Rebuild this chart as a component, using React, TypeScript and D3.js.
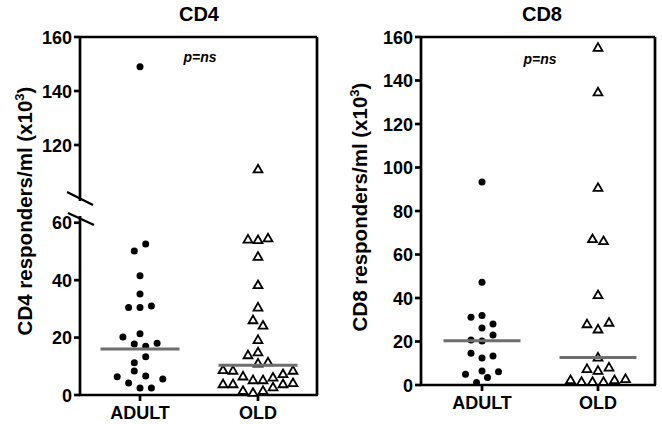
import React from "react";
import * as d3 from "d3";

const categories = ["ADULT", "OLD"];

// CD4 panel data (x10^3 responders/ml)
const cd4AdultValues = [149, 52.6, 50.2, 41.5, 35.2, 30.5, 30.5, 31, 20.2, 21.3, 17.8, 17, 18, 13.3, 11.2, 8.4, 6.4, 6.6, 5.6, 4.2, 2.4, 2.4];
const cd4AdultSlots = [0, 1, -1, 0, 0, -2, 0, 2, -3, 0, -1, 1, 3, 1, -1, -1, -4, 1, 4, -2, 0, 2];
const cd4OldValues = [111, 54.2, 54, 54.6, 48.2, 38.3, 30.5, 26.1, 24.2, 19.2, 13.9, 14.9, 11, 11.4, 8.7, 8.5, 7.3, 8.5, 6.5, 5.2, 5.2, 6.1, 3.8, 3.8, 2.7, 3.8, 4.2, 1.5, 0.8, 1.5];
const cd4OldSlots = [0, -2, 0, 2, 0, 0, 0, -1, 1, 0, -2, 0, 0, 2, -7, -5, 5, 7, -3, -1, 1, 3, -7, -5, 3, 5, 7, -3, -1, 1];
const cd4Medians = [16, 10.4];
const cd4LowTicks = [0, 20, 40, 60];
const cd4HighTicks = [120, 140, 160];

// CD8 panel data
const cd8AdultValues = [93.3, 47.2, 31.1, 31.9, 28, 26.2, 23, 20.7, 20.2, 14.6, 12.4, 13.3, 4.9, 6.4, 6.1, 3.4, 1.1];
const cd8AdultSlots = [0, 0, -2, 0, 2, 0, 2, -2, 0, -2, 0, 2, -3, 0, 3, 1, -1];
const cd8OldValues = [155.1, 134.6, 90.7, 67.1, 66.2, 41.4, 28, 25.6, 28.7, 12.7, 7.4, 6.6, 8.1, 2.3, 1.5, 1.5, 1.5, 2.3, 2.8];
const cd8OldSlots = [0, 0, 0, -1, 1, 0, -2, 0, 2, 0, -2, 0, 2, -5, -3, -1, 1, 3, 5];
const cd8Medians = [20.4, 12.6];
const cd8Ticks = [0, 20, 40, 60, 80, 100, 120, 140, 160];

const FONT = "'Liberation Sans', Arial, Helvetica, sans-serif";
const LINE = 2.7;
const triPath = d3.symbol(d3.symbolTriangle, 34)() as string;

function Marker({ kind, x, y }: { kind: string; x: number; y: number }) {
  if (kind === "circle") return <circle cx={x} cy={y} r={3.5} fill="#000" />;
  return <path d={triPath} transform={`translate(${x},${y + 0.6})`} fill="#fff" stroke="#000" strokeWidth={1.8} />;
}

function YLabel({ x, y, name }: { x: number; y: number; name: string }) {
  return (
    <text transform={`translate(${x},${y}) rotate(-90)`} textAnchor="middle" fontFamily={FONT} fontWeight="bold" fontSize={20.5}>
      {name} responders/ml (x10
      <tspan fontSize={13} dy={-8}>3</tspan>
      <tspan dy={8}>)</tspan>
    </text>
  );
}

export default function App() {
  // ---------- CD4 panel ----------
  const L = { left: 80, right: 317, top: 37, bottom: 395 };
  const x4 = d3.scalePoint<string>().domain(categories).range([81, 317]).padding(0.5);
  const y4Low = d3.scaleLinear().domain([0, 62]).range([395, 217]);
  const y4High = d3.scaleLinear().domain([100, 160]).range([199, 37]);
  const y4 = (v: number) => (v >= 100 ? y4High(v) : y4Low(v));

  // ---------- CD8 panel ----------
  const R = { left: 421, right: 655, top: 37, bottom: 385 };
  const x8 = d3.scalePoint<string>().domain(categories).range([424, 656]).padding(0.5);
  const y8 = d3.scaleLinear().domain([0, 160]).range([385, 37]);

  const cd4Groups = [
    { cat: "ADULT", values: cd4AdultValues, slots: cd4AdultSlots, unit: 5.7, kind: "circle" },
    { cat: "OLD", values: cd4OldValues, slots: cd4OldSlots, unit: 5, kind: "tri" },
  ];
  const cd8Groups = [
    { cat: "ADULT", values: cd8AdultValues, slots: cd8AdultSlots, unit: 5.5, kind: "circle" },
    { cat: "OLD", values: cd8OldValues, slots: cd8OldSlots, unit: 5.5, kind: "tri" },
  ];

  const tickText = { fontFamily: FONT, fontWeight: "bold" as const, fontSize: 18 };

  return (
    <svg width={662} height={424} style={{ position: "absolute", left: 0, top: 0, background: "#fff" }}>
      <rect x={0} y={0} width={662} height={424} fill="#fff" />

      {/* ===== CD4 ===== */}
      <text x={199} y={21} textAnchor="middle" fontFamily={FONT} fontWeight="bold" fontSize={20}>CD4</text>
      <text x={200} y={62} textAnchor="middle" fontFamily={FONT} fontWeight="bold" fontStyle="italic" fontSize={14}>p=ns</text>
      <YLabel x={32} y={211} name="CD4" />

      {/* frame */}
      <line x1={L.left} x2={L.right} y1={L.top} y2={L.top} stroke="#000" strokeWidth={LINE} />
      <line x1={L.right} x2={L.right} y1={L.top} y2={L.bottom} stroke="#000" strokeWidth={LINE} />
      <line x1={L.left - 1} x2={L.right + 1} y1={L.bottom} y2={L.bottom} stroke="#000" strokeWidth={LINE} />
      <line x1={L.left} x2={L.left} y1={L.top - 1} y2={y4High(100) + 2} stroke="#000" strokeWidth={LINE} />
      <line x1={L.left} x2={L.left} y1={y4Low(62) - 1} y2={L.bottom} stroke="#000" strokeWidth={LINE} />
      {/* break marks */}
      <line x1={67} x2={93} y1={192} y2={205} stroke="#000" strokeWidth={2.4} />
      <line x1={68} x2={94} y1={213} y2={225} stroke="#000" strokeWidth={2.4} />

      {[...cd4LowTicks.map((t) => ({ t, y: y4Low(t) })), ...cd4HighTicks.map((t) => ({ t, y: y4High(t) }))].map(({ t, y }) => (
        <g key={"t4" + t}>
          <line x1={L.left - 6} x2={L.left} y1={y} y2={y} stroke="#000" strokeWidth={LINE} />
          <text x={L.left - 8} y={y + 6.5} textAnchor="end" {...tickText}>{t}</text>
        </g>
      ))}
      {categories.map((c) => (
        <g key={"x4" + c}>
          <line x1={x4(c)} x2={x4(c)} y1={L.bottom} y2={L.bottom + 6} stroke="#000" strokeWidth={LINE} />
          <text x={x4(c)} y={L.bottom + 24} textAnchor="middle" fontFamily={FONT} fontWeight="bold" fontSize={18}>{c}</text>
        </g>
      ))}

      {cd4Groups.map((g) =>
        g.values.map((v, i) => (
          <Marker key={g.cat + "4" + i} kind={g.kind} x={(x4(g.cat) as number) + g.slots[i] * g.unit} y={y4(v)} />
        ))
      )}
      {categories.map((c, i) => (
        <line key={"m4" + c} x1={(x4(c) as number) - 39.5} x2={(x4(c) as number) + 39.5} y1={y4(cd4Medians[i])} y2={y4(cd4Medians[i])} stroke="#6e6e6e" strokeWidth={3} />
      ))}

      {/* ===== CD8 ===== */}
      <text x={542} y={21} textAnchor="middle" fontFamily={FONT} fontWeight="bold" fontSize={20}>CD8</text>
      <text x={540} y={64} textAnchor="middle" fontFamily={FONT} fontWeight="bold" fontStyle="italic" fontSize={14}>p=ns</text>
      <YLabel x={367} y={207} name="CD8" />

      <line x1={R.left} x2={R.right} y1={R.top} y2={R.top} stroke="#000" strokeWidth={LINE} />
      <line x1={R.right} x2={R.right} y1={R.top} y2={R.bottom} stroke="#000" strokeWidth={LINE} />
      <line x1={R.left - 1} x2={R.right + 1} y1={R.bottom} y2={R.bottom} stroke="#000" strokeWidth={LINE} />
      <line x1={R.left} x2={R.left} y1={R.top - 1} y2={R.bottom} stroke="#000" strokeWidth={LINE} />

      {cd8Ticks.map((t) => (
        <g key={"t8" + t}>
          <line x1={R.left - 6} x2={R.left} y1={y8(t)} y2={y8(t)} stroke="#000" strokeWidth={LINE} />
          <text x={R.left - 8} y={y8(t) + 6.5} textAnchor="end" {...tickText}>{t}</text>
        </g>
      ))}
      {categories.map((c) => (
        <g key={"x8" + c}>
          <line x1={x8(c)} x2={x8(c)} y1={R.bottom} y2={R.bottom + 6} stroke="#000" strokeWidth={LINE} />
          <text x={x8(c)} y={R.bottom + 24} textAnchor="middle" fontFamily={FONT} fontWeight="bold" fontSize={18}>{c}</text>
        </g>
      ))}

      {cd8Groups.map((g) =>
        g.values.map((v, i) => (
          <Marker key={g.cat + "8" + i} kind={g.kind} x={(x8(g.cat) as number) + g.slots[i] * g.unit} y={y8(v)} />
        ))
      )}
      {categories.map((c, i) => (
        <line key={"m8" + c} x1={(x8(c) as number) - 38.5} x2={(x8(c) as number) + 38.5} y1={y8(cd8Medians[i])} y2={y8(cd8Medians[i])} stroke="#6e6e6e" strokeWidth={3} />
      ))}
    </svg>
  );
}
